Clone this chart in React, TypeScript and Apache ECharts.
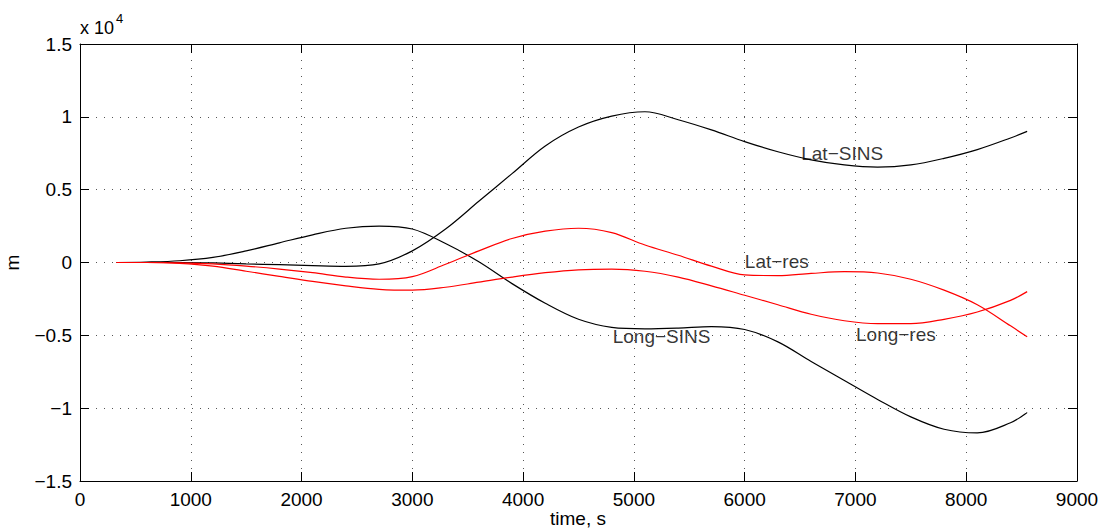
import React, { useEffect, useRef } from "react";
import * as echarts from "echarts";

// time, s
const timeS = [330, 600, 900, 1200, 1500, 1800, 2100, 2400, 2700, 3000, 3300, 3600, 3900, 4200, 4500, 4800, 5100, 5400, 5700, 6000, 6300, 6600, 6900, 7200, 7500, 7800, 8100, 8400, 8550];

// metres
const latSins = [0, 0, 0, -30, -100, -150, -220, -270, -100, 800, 2300, 4200, 6100, 8000, 9300, 10050, 10350, 9800, 9100, 8300, 7600, 7050, 6700, 6550, 6700, 7150, 7750, 8550, 9000];
const longSins = [0, 30, 120, 350, 800, 1350, 1900, 2350, 2500, 2300, 1300, 50, -1450, -2800, -3900, -4450, -4550, -4500, -4400, -4600, -5450, -6800, -8100, -9400, -10600, -11450, -11700, -11000, -10300];
const latRes = [0, 0, -20, -100, -250, -450, -700, -1000, -1150, -970, -120, 800, 1650, 2150, 2350, 2050, 1200, 500, -250, -850, -900, -750, -630, -720, -1150, -1900, -2900, -4350, -5100];
const longRes = [0, 0, -60, -250, -600, -950, -1300, -1600, -1840, -1900, -1700, -1350, -1000, -700, -500, -450, -600, -1000, -1600, -2250, -2900, -3550, -4000, -4200, -4200, -3900, -3400, -2600, -2000];

const seriesNames = ["Lat\u2212SINS", "Long\u2212SINS", "Lat\u2212res", "Long\u2212res"];
const seriesColors = ["#000000", "#000000", "#ff0000", "#ff0000"];

// in-plot text labels: [time, metres, text]
const curveLabels: [number, number, string][] = [
  [6880, 7450, "Lat\u2212SINS"],
  [6290, 50, "Lat\u2212res"],
  [5250, -5100, "Long\u2212SINS"],
  [7365, -4950, "Long\u2212res"],
];

const xTicks = { min: 0, max: 9000, interval: 1000 };
const yTicks = { min: -15000, max: 15000, interval: 5000 };

const FONT = "'Liberation Sans', Arial, Helvetica, sans-serif";
const FS = 19;

export default function App() {
  const ref = useRef<HTMLDivElement>(null);
  useEffect(() => {
    if (!ref.current) return;
    const chart = echarts.init(ref.current, undefined, { renderer: "svg" });
    const pairs = (ys: number[]) => timeS.map((t, i) => [t, ys[i]]);
    const allSeries = [latSins, longSins, latRes, longRes];
    const gridLine = { show: true, lineStyle: { color: "#555", width: 1, type: [1, 7] as any } };
    const fmtY = (v: number) => String(+(v / 1e4).toFixed(2)).replace("-", "\u2212");
    const fmtX = (v: number) => String(v);
    const tick = { show: true, inside: true, length: 9, lineStyle: { color: "#000" } };
    const line = { show: true, onZero: false, lineStyle: { color: "#000", width: 1 } };
    chart.setOption({
      animation: false,
      backgroundColor: "#fff",
      textStyle: { fontFamily: FONT },
      grid: { left: 80, right: 23, top: 44, bottom: 48, containLabel: false, outerBoundsMode: "none" },
      xAxis: [
        {
          type: "value",
          ...xTicks,
          position: "bottom",
          axisLine: line,
          axisTick: tick,
          axisLabel: { fontSize: FS, color: "#000", margin: 9, fontFamily: FONT, formatter: fmtX },
          splitLine: gridLine,
        },
        {
          type: "value",
          ...xTicks,
          position: "top",
          axisLine: line,
          axisTick: tick,
          axisLabel: { show: false },
          splitLine: { show: false },
        },
      ],
      yAxis: [
        {
          type: "value",
          ...yTicks,
          position: "left",
          name: "m",
          nameLocation: "middle",
          nameGap: 58,
          nameRotate: 90,
          nameTextStyle: { fontSize: FS, color: "#000", fontFamily: FONT },
          axisLine: line,
          axisTick: tick,
          axisLabel: { fontSize: FS, color: "#000", margin: 8, formatter: fmtY, fontFamily: FONT },
          splitLine: gridLine,
        },
        {
          type: "value",
          ...yTicks,
          position: "right",
          axisLine: line,
          axisTick: tick,
          axisLabel: { show: false },
          splitLine: { show: false },
        },
      ],
      graphic: [
        { type: "text", left: 80, top: 19, style: { text: "x 10", font: `18px ${FONT}`, fill: "#000" } },
        { type: "text", left: 116, top: 12, style: { text: "4", font: `13px ${FONT}`, fill: "#000" } },
        {
          type: "text",
          x: 578,
          y: 509,
          style: { text: "time, s", font: `${FS}px ${FONT}`, fill: "#000", align: "center", verticalAlign: "top" },
        },
      ],
      series: [
        ...allSeries.map((ys, i) => ({
          type: "line",
          name: seriesNames[i],
          xAxisIndex: 0,
          yAxisIndex: 0,
          data: pairs(ys),
          smooth: 0.35,
          showSymbol: false,
          symbol: "none",
          lineStyle: { color: seriesColors[i], width: 1.2 },
          z: 3,
        })),
        {
          type: "scatter",
          xAxisIndex: 0,
          yAxisIndex: 0,
          symbolSize: 0,
          data: curveLabels.map((l) => ({ value: [l[0], l[1]], name: l[2] })),
          label: {
            show: true,
            position: "inside",
            formatter: (p: any) => p.name,
            fontSize: FS,
            color: "#000",
            fontFamily: FONT,
          },
          z: 5,
        },
      ],
    });
    return () => chart.dispose();
  }, []);
  return <div ref={ref} style={{ position: "fixed", left: 0, top: 0, width: 1100, height: 529 }} />;
}
